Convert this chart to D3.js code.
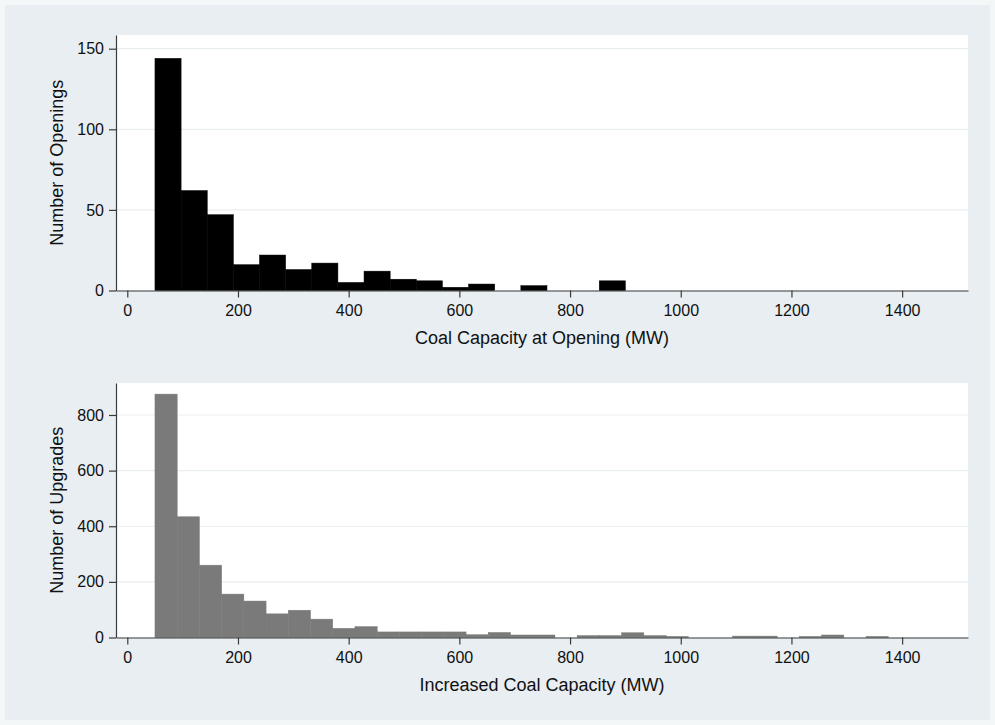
<!DOCTYPE html>
<html>
<head>
<meta charset="utf-8">
<script src="https://cdn.jsdelivr.net/npm/d3@7"></script>
<style>
  html, body { margin: 0; padding: 0; background: #f4f7f8; }
  svg { display: block; }
  .tick text { font-family: "Liberation Sans", Arial, Helvetica, sans-serif; fill: #111; }
  .axis-title { font-family: "Liberation Sans", Arial, Helvetica, sans-serif; fill: #111; }
</style>
</head>
<body>
<svg id="chart" width="995" height="725"></svg>
<script>
// Histogram binning: first bin lower edge and bin width (MW)
const openingsBinStart = 50;
const openingsBinWidth = 47.22;
// Number of plant openings per capacity bin
const openingsCounts = [144, 62, 47, 16, 22, 13, 17, 5, 12, 7, 6, 2, 4, 0, 3, 0, 0, 6];

const upgradesBinStart = 50;
const upgradesBinWidth = 40.15;
// Number of capacity upgrades per bin
const upgradesCounts = [875, 434, 260, 156, 131, 85, 98, 66, 33, 39, 20, 20, 20, 20, 10, 18,
                        9, 9, 0, 7, 7, 17, 7, 4, 0, 0, 5, 5, 0, 4, 9, 0, 4];

const xTickValues = [0, 200, 400, 600, 800, 1000, 1200, 1400];
const openingsTicks = [0, 50, 100, 150];
const upgradesTicks = [0, 200, 400, 600, 800];

const openingsTitleX = "Coal Capacity at Opening (MW)";
const openingsTitleY = "Number of Openings";
const upgradesTitleX = "Increased Coal Capacity (MW)";
const upgradesTitleY = "Number of Upgrades";

const svg = d3.select("#chart");

// graph region background
svg.append("rect")
  .attr("x", 5).attr("y", 5).attr("width", 985).attr("height", 715)
  .attr("fill", "#e8eef1");

const plotLeft = 116, plotRight = 968;
const x = d3.scaleLinear().domain([-20.4, 1519]).range([plotLeft, plotRight]);
const fmt = d3.format("d");

function drawPanel(cfg) {
  const g = svg.append("g");
  const y = d3.scaleLinear().domain([0, cfg.yMax]).range([cfg.bottom, cfg.top]);

  // plot region
  g.append("rect")
    .attr("x", plotLeft).attr("y", cfg.top)
    .attr("width", plotRight - plotLeft).attr("height", cfg.bottom - cfg.top)
    .attr("fill", "#ffffff");

  // horizontal gridlines
  g.append("g").selectAll("line")
    .data(cfg.yTicks.filter(d => d > 0))
    .join("line")
    .attr("x1", plotLeft).attr("x2", plotRight)
    .attr("y1", d => y(d)).attr("y2", d => y(d))
    .attr("stroke", "#e9eef0").attr("stroke-width", 1.2);

  // bars
  g.append("g").selectAll("rect")
    .data(cfg.counts.map((c, i) => ({
      x0: cfg.binStart + i * cfg.binWidth,
      x1: cfg.binStart + (i + 1) * cfg.binWidth,
      c: c
    })).filter(d => d.c > 0))
    .join("rect")
    .attr("x", d => x(d.x0))
    .attr("width", d => x(d.x1) - x(d.x0))
    .attr("y", d => y(d.c))
    .attr("height", d => y(0) - y(d.c))
    .attr("fill", cfg.color)
    .attr("stroke", cfg.color)
    .attr("stroke-width", 0.5);

  // y axis
  const ya = g.append("g")
    .attr("transform", `translate(${plotLeft},0)`)
    .call(d3.axisLeft(y).tickValues(cfg.yTicks).tickFormat(fmt)
      .tickSize(7).tickPadding(5).tickSizeOuter(0));
  // x axis
  const xa = g.append("g")
    .attr("transform", `translate(0,${cfg.bottom})`)
    .call(d3.axisBottom(x).tickValues(xTickValues).tickFormat(fmt)
      .tickSize(7).tickPadding(7).tickSizeOuter(0));

  [ya, xa].forEach(a => {
    a.select(".domain").attr("stroke", "#3a3a3a").attr("stroke-width", 1.2);
    a.selectAll(".tick line").attr("stroke", "#3a3a3a").attr("stroke-width", 1.2);
    a.selectAll(".tick text").attr("font-size", 16);
  });

  // axis titles
  g.append("text").attr("class", "axis-title")
    .attr("x", (plotLeft + plotRight) / 2).attr("y", cfg.bottom + 53)
    .attr("text-anchor", "middle").attr("font-size", 18)
    .text(cfg.titleX);
  g.append("text").attr("class", "axis-title")
    .attr("transform", `translate(63,${(cfg.top + cfg.bottom) / 2}) rotate(-90)`)
    .attr("text-anchor", "middle").attr("font-size", 18)
    .text(cfg.titleY);
}

drawPanel({
  top: 35, bottom: 290.5, yMax: 158.5, yTicks: openingsTicks,
  counts: openingsCounts, binStart: openingsBinStart, binWidth: openingsBinWidth,
  color: "#000000", titleX: openingsTitleX, titleY: openingsTitleY
});
drawPanel({
  top: 383, bottom: 637.5, yMax: 915, yTicks: upgradesTicks,
  counts: upgradesCounts, binStart: upgradesBinStart, binWidth: upgradesBinWidth,
  color: "#7a7a7a", titleX: upgradesTitleX, titleY: upgradesTitleY
});
</script>
</body>
</html>
